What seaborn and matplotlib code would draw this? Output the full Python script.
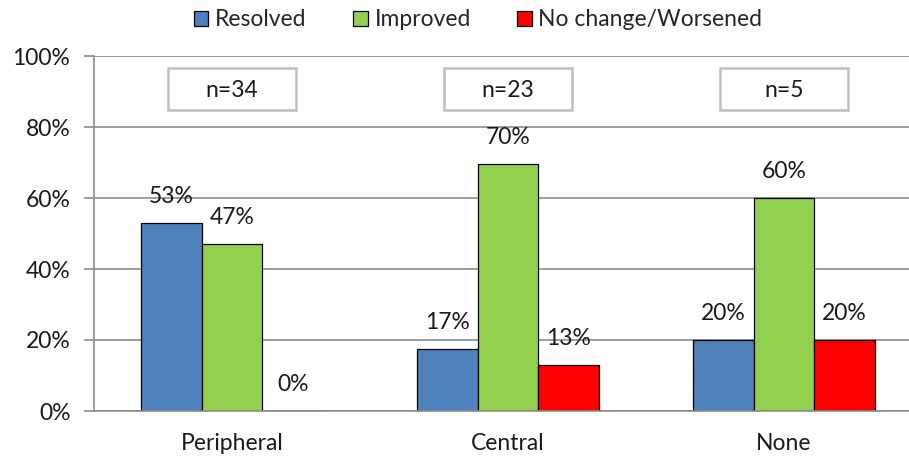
import matplotlib as mpl
mpl.use('Agg')
import matplotlib.pyplot as plt
import matplotlib.ticker as mticker
from matplotlib.patches import Rectangle
import pandas as pd
import seaborn as sns

locations = ['Peripheral', 'Central', 'None']
outcomes = ['Resolved', 'Improved', 'No change/Worsened']
resolved = [52.9, 17.4, 20.0]
improved = [47.1, 69.6, 60.0]
worsened = [0.0, 13.0, 20.0]
counts = ['n=34', 'n=23', 'n=5']
colors = ['#4F81BD', '#92D050', '#FF0000']

rows = []
for i, loc in enumerate(locations):
    for outcome, vals in zip(outcomes, [resolved, improved, worsened]):
        rows.append({'location': loc, 'outcome': outcome, 'pct': vals[i]})
df = pd.DataFrame(rows)

FS = 16.5

sns.set_style('white')
plt.rcParams['font.family'] = ['Lato', 'DejaVu Sans']
plt.rcParams['font.size'] = FS

fig = plt.figure(figsize=(9.09, 4.58), dpi=100)
# right edge of the plot runs past the picture, as in the reference
ax = fig.add_axes([94 / 909, 1 - 411 / 458, 828 / 909, 355 / 458])

g = sns.barplot(data=df, x='location', y='pct', hue='outcome', order=locations,
                hue_order=outcomes, palette=colors, width=0.66, dodge=True,
                edgecolor='black', linewidth=0.9, saturation=1, ax=ax, legend=True)

for container in ax.containers:
    labels = ['{:.0f}%'.format(v) for v in container.datavalues]
    for rect, label in zip(container, labels):
        ax.annotate(label, (rect.get_x() + rect.get_width() / 2, rect.get_height()),
                    xytext=(0, 19), textcoords='offset points',
                    ha='center', va='center', fontsize=FS, color='#1a1a1a')

ax.set_xlim(-0.5, 2.5)
ax.set_ylim(0, 100)
ax.yaxis.set_major_locator(mticker.MultipleLocator(20))
ax.yaxis.set_major_formatter(mticker.FuncFormatter(lambda v, p: '{:.0f}%'.format(v)))
ax.grid(axis='y', color='#8c8c8c', linewidth=1.2)
ax.set_axisbelow(True)
ax.set_xlabel('')
ax.set_ylabel('')

ax.set_xticks([-0.5, 0.5, 1.5, 2.5], minor=True)
ax.tick_params(axis='x', which='major', length=0, pad=16, labelsize=FS, labelcolor='#1a1a1a')
ax.tick_params(axis='x', which='minor', length=5, width=1.2, color='#8c8c8c', direction='out')
ax.tick_params(axis='y', length=7, width=1.2, color='#8c8c8c', direction='out', pad=10,
               labelsize=FS, labelcolor='#1a1a1a', left=True)

for side in ['top', 'right']:
    ax.spines[side].set_visible(False)
for side in ['left', 'bottom']:
    ax.spines[side].set_color('#8c8c8c')
    ax.spines[side].set_linewidth(1.2)

for i, n in enumerate(counts):
    ax.add_patch(Rectangle((i - 0.232, 84.8), 0.464, 11.8, fill=True, facecolor='white',
                           edgecolor='#bfbfbf', linewidth=1.8, zorder=3))
    ax.text(i, 90.4, n, ha='center', va='center', fontsize=FS, color='#1a1a1a', zorder=4)

handles, labels = ax.get_legend_handles_labels()
ax.get_legend().remove()
fig.legend(handles, labels, loc='center', bbox_to_anchor=(478 / 909, 1 - 20 / 458),
           ncol=3, frameon=False, fontsize=FS, handlelength=0.65, handleheight=0.65,
           handletextpad=0.3, columnspacing=2.0)

fig.savefig('out.png', dpi=100)
